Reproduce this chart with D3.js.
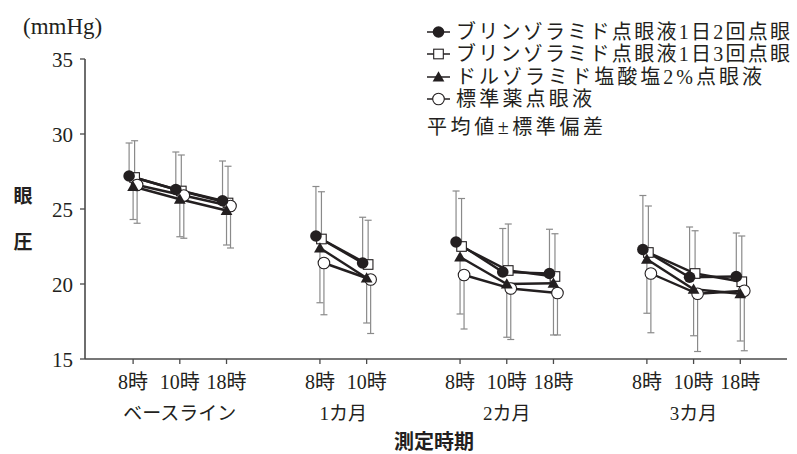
<!DOCTYPE html>
<html>
<head>
<meta charset="utf-8">
<script src="https://d3js.org/d3.v7.min.js"></script>
<style>
    body { margin: 0; background: #fff; }
    text { font-family: "Liberation Serif", "Noto Sans CJK JP", serif; fill: #231f20; }
    .jp-bold { font-family: "Noto Sans CJK JP", sans-serif; font-weight: bold; }
</style>
</head>
<body>
<div id="chart"></div>
<script>
// x positions are slot indexes (gaps between visit groups)
var slots = [0, 1, 2, 4, 5, 7, 8, 9, 11, 12, 13];
var timeLabels = ["8時", "10時", "18時", "8時", "10時", "8時", "10時", "18時", "8時", "10時", "18時"];
var groupOf = [0, 0, 0, 1, 1, 2, 2, 2, 3, 3, 3];
var groupNames = ["ベースライン", "1カ月", "2カ月", "3カ月"];
var yTicks = [15, 20, 25, 30, 35];

var legendNames = [
    "ブリンゾラミド点眼液1日2回点眼",
    "ブリンゾラミド点眼液1日3回点眼",
    "ドルゾラミド塩酸塩2%点眼液",
    "標準薬点眼液"
];

// mean and SD per series
var bidMean = [27.2, 26.3, 25.55, 23.2, 21.4, 22.8, 20.8, 20.7, 22.3, 20.45, 20.5];
var bidSd   = [2.2, 2.5, 2.65, 3.3, 3.05, 3.4, 2.9, 2.95, 3.6, 3.35, 2.9];
var tidMean = [27.1, 26.2, 25.4, 23.0, 21.3, 22.5, 20.9, 20.5, 22.1, 20.7, 20.15];
var tidSd   = [2.45, 2.4, 2.45, 3.15, 2.95, 3.2, 3.1, 2.85, 3.1, 2.85, 3.05];
var dorMean = [26.5, 25.65, 24.9, 22.4, 20.4, 21.8, 20.0, 20.05, 21.65, 19.65, 19.35];
var dorSd   = [2.2, 2.5, 2.3, 3.65, 3.0, 3.8, 3.55, 3.45, 3.6, 3.1, 3.15];
var stdMean = [26.6, 25.9, 25.2, 21.4, 20.3, 20.6, 19.7, 19.4, 20.7, 19.35, 19.55];
var stdSd   = [2.55, 2.85, 2.8, 3.45, 3.6, 3.6, 3.4, 2.8, 3.95, 3.85, 4.0];

var series = [
    { mean: bidMean, sd: bidSd, dir: -1, shape: "dot", dx: -4 },
    { mean: tidMean, sd: tidSd, dir: -1, shape: "square", dx: 1.5 },
    { mean: dorMean, sd: dorSd, dir: 1, shape: "triangle", dx: 0 },
    { mean: stdMean, sd: stdSd, dir: 1, shape: "ring", dx: 4 }
];

var width = 797, height = 454;
var svg = d3.select("#chart").append("svg")
    .attr("width", width)
    .attr("height", height);

var x = d3.scaleLinear().domain([-1.03, 14]).range([85, 787]);
var y = d3.scaleLinear().domain([15, 35]).range([359, 59]);

// axes
var axisColor = "#4a4a4a";
svg.append("line")
    .attr("x1", x.range()[0]).attr("x2", x.range()[0])
    .attr("y1", y(35)).attr("y2", y(15))
    .attr("stroke", axisColor).attr("stroke-width", 1.6);
svg.append("line")
    .attr("x1", x.range()[0]).attr("x2", x.range()[1])
    .attr("y1", y(15)).attr("y2", y(15))
    .attr("stroke", axisColor).attr("stroke-width", 1.6);

svg.selectAll(".ytick").data(yTicks).enter().append("line")
    .attr("x1", x.range()[0] - 5).attr("x2", x.range()[0])
    .attr("y1", function (d) { return y(d); })
    .attr("y2", function (d) { return y(d); })
    .attr("stroke", axisColor).attr("stroke-width", 1.3);

svg.selectAll(".ylab").data(yTicks).enter().append("text")
    .attr("x", 73)
    .attr("y", function (d) { return y(d) + 7.5; })
    .attr("text-anchor", "end")
    .attr("font-size", 21)
    .text(function (d) { return d; });

svg.selectAll(".xtick").data(slots).enter().append("line")
    .attr("x1", function (d) { return x(d); })
    .attr("x2", function (d) { return x(d); })
    .attr("y1", y(15)).attr("y2", y(15) + 5)
    .attr("stroke", axisColor).attr("stroke-width", 1.3);

svg.selectAll(".xlab").data(slots).enter().append("text")
    .attr("x", function (d) { return x(d); })
    .attr("y", 389)
    .attr("text-anchor", "middle")
    .attr("font-size", 20)
    .text(function (d, i) { return timeLabels[i]; });

svg.selectAll(".glab").data(groupNames).enter().append("text")
    .attr("x", function (d, gi) {
        var s = slots.filter(function (v, i) { return groupOf[i] == gi; });
        return x(d3.mean(s));
    })
    .attr("y", 420)
    .attr("text-anchor", "middle")
    .attr("font-size", 19)
    .text(function (d) { return d; });

svg.append("text")
    .attr("class", "jp-bold")
    .attr("x", 434).attr("y", 449)
    .attr("text-anchor", "middle")
    .attr("font-size", 20)
    .text("測定時期");

svg.append("text").attr("class", "jp-bold")
    .attr("x", 23).attr("y", 203)
    .attr("text-anchor", "middle").attr("font-size", 19)
    .text("眼");
svg.append("text").attr("class", "jp-bold")
    .attr("x", 23).attr("y", 249)
    .attr("text-anchor", "middle").attr("font-size", 19)
    .text("圧");

svg.append("text")
    .attr("x", 23).attr("y", 34)
    .attr("font-size", 23)
    .text("(mmHg)");

// error bars
var barColor = "#8a8a8a";
series.forEach(function (s) {
    var g = svg.append("g");
    slots.forEach(function (slot, i) {
        var cx = x(slot) + s.dx;
        var yEnd = y(s.mean[i] + s.dir * -1 * s.sd[i]);
        g.append("line")
            .attr("x1", cx).attr("x2", cx)
            .attr("y1", y(s.mean[i])).attr("y2", yEnd)
            .attr("stroke", barColor).attr("stroke-width", 1.2);
        g.append("line")
            .attr("x1", cx - 3.5).attr("x2", cx + 3.5)
            .attr("y1", yEnd).attr("y2", yEnd)
            .attr("stroke", barColor).attr("stroke-width", 1.2);
    });
});

// connecting lines within each visit group
var line = d3.line()
    .x(function (d) { return d[0]; })
    .y(function (d) { return d[1]; });

series.forEach(function (s) {
    groupNames.forEach(function (gname, gi) {
        var pts = [];
        slots.forEach(function (slot, i) {
            if (groupOf[i] == gi) pts.push([x(slot) + s.dx, y(s.mean[i])]);
        });
        svg.append("path")
            .attr("d", line(pts))
            .attr("fill", "none")
            .attr("stroke", "#231f20")
            .attr("stroke-width", 2.4);
    });
});

function drawMarker(g, shape, cx, cy) {
    if (shape == "dot") {
        g.append("circle").attr("cx", cx).attr("cy", cy).attr("r", 5.8)
            .attr("fill", "#231f20");
    } else if (shape == "ring") {
        g.append("circle").attr("cx", cx).attr("cy", cy).attr("r", 5.8)
            .attr("fill", "#fff").attr("stroke", "#231f20").attr("stroke-width", 1.1);
    } else if (shape == "square") {
        g.append("rect").attr("x", cx - 4.8).attr("y", cy - 4.8)
            .attr("width", 9.6).attr("height", 9.6)
            .attr("fill", "#fff").attr("stroke", "#231f20").attr("stroke-width", 1.1);
    } else {
        g.append("path")
            .attr("d", d3.symbol().type(d3.symbolTriangle).size(60)())
            .attr("transform", "translate(" + cx + "," + (cy + 1) + ")")
            .attr("fill", "#231f20");
    }
}

// markers: square and ring under, dot and triangle on top
[1, 3, 2, 0].forEach(function (k) {
    var s = series[k];
    var g = svg.append("g");
    slots.forEach(function (slot, i) {
        drawMarker(g, s.shape, x(slot) + s.dx, y(s.mean[i]));
    });
});

// legend
var legendY = [32, 54, 77, 99];
var lg = svg.append("g");
series.forEach(function (s, k) {
    var ly = legendY[k];
    lg.append("line")
        .attr("x1", 427).attr("x2", 450)
        .attr("y1", ly).attr("y2", ly)
        .attr("stroke", "#231f20").attr("stroke-width", 1.5);
    drawMarker(lg, s.shape, 438.5, ly);
    lg.append("text")
        .attr("x", 456).attr("y", ly + 7)
        .attr("font-size", 20)
        .attr("textLength", [334, 334, 306, 136][k])
        .attr("lengthAdjust", "spacing")
        .text(legendNames[k]);
});
lg.append("text")
    .attr("x", 427).attr("y", 134)
    .attr("font-size", 20)
    .attr("textLength", 176)
    .attr("lengthAdjust", "spacing")
    .text("平均値±標準偏差");
</script>
</body>
</html>
